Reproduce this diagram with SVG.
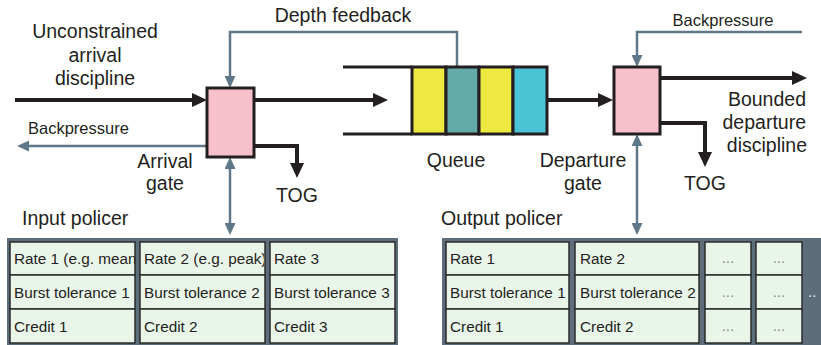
<svg xmlns="http://www.w3.org/2000/svg" width="821" height="345" viewBox="0 0 821 345">
<style>
text{font-family:"Liberation Sans",Arial,sans-serif;fill:#231f20}
.lbl{font-size:19.5px}
.bp{font-size:16.5px}
.cell text{font-size:15.3px}
.cell text.lbl{font-size:19.5px}
.dots{font-size:11px;fill:#8a8f8a}
.blk{fill:none;stroke:#231f20;stroke-width:4}
.sl{fill:none;stroke:#5f7889;stroke-width:2.5}
.gate{fill:#f8c0cb;stroke:#231f20;stroke-width:3}
.q{stroke:#231f20;stroke-width:3}
.c{fill:#eaf5ea;stroke:#2b2b2b;stroke-width:1.5}
.tbl{fill:#5d6d7a}
</style>
<defs>
<marker id="ah" markerUnits="userSpaceOnUse" viewBox="0 0 15 14" refX="3" refY="7" markerWidth="15" markerHeight="14" orient="auto"><path d="M0,0 L15,7 L0,14 z" fill="#231f20"/></marker>
<marker id="sh" markerUnits="userSpaceOnUse" viewBox="0 0 12 11" refX="2" refY="5.5" markerWidth="12" markerHeight="11" orient="auto-start-reverse"><path d="M0,0 L12,5.5 L0,11 z" fill="#5f7889"/></marker>
<clipPath id="c1"><rect x="10" y="242" width="125" height="33"/></clipPath>
<clipPath id="c2"><rect x="140" y="242" width="124" height="33"/></clipPath>
</defs>

<g id="connectors">
<path class="blk" d="M15,100 H195" marker-end="url(#ah)"/>
<path class="blk" d="M254,100 H376" marker-end="url(#ah)"/>
<path class="blk" d="M547,100 H601" marker-end="url(#ah)"/>
<path class="blk" d="M660,78 H795" marker-end="url(#ah)"/>
<path class="blk" d="M254,146 H297 V166" marker-end="url(#ah)"/>
<path class="blk" d="M660,123 H705 V155" marker-end="url(#ah)"/>
<path class="sl" d="M457,67 V32 H230 V78" marker-end="url(#sh)"/>
<path class="sl" d="M802,32 H637 V57" marker-end="url(#sh)"/>
<path class="sl" d="M207,146 H27" marker-end="url(#sh)"/>
<path class="sl" d="M230,167 V225" marker-start="url(#sh)" marker-end="url(#sh)"/>
<path class="sl" d="M637,144 V225" marker-start="url(#sh)" marker-end="url(#sh)"/>
</g>

<g id="labels">
<text class="lbl" x="95" y="38" text-anchor="middle">Unconstrained</text>
<text class="lbl" x="95" y="62" text-anchor="middle">arrival</text>
<text class="lbl" x="95" y="85" text-anchor="middle">discipline</text>
<text class="lbl" x="343" y="22" text-anchor="middle">Depth feedback</text>
<text class="bp" x="28" y="134">Backpressure</text>
<text class="bp" x="723" y="26" text-anchor="middle">Backpressure</text>
<text class="lbl" x="297" y="202" text-anchor="middle">TOG</text>
<text class="lbl" x="705" y="190" text-anchor="middle">TOG</text>
<text class="lbl" x="806" y="106" text-anchor="end">Bounded</text>
<text class="lbl" x="806" y="129" text-anchor="end">departure</text>
<text class="lbl" x="807" y="152" text-anchor="end">discipline</text>
</g>

<g id="arrival-gate">
<rect class="gate" x="207" y="88" width="47" height="69"/>
<text class="lbl" x="165" y="168" text-anchor="middle">Arrival</text>
<text class="lbl" x="165" y="190" text-anchor="middle">gate</text>
</g>

<g id="queue">
<path class="q" d="M343,67 H412 M343,134 H412"/>
<rect class="q" x="412" y="67" width="34" height="67" fill="#ede940"/>
<rect class="q" x="446" y="67" width="33" height="67" fill="#63aaa9"/>
<rect class="q" x="479" y="67" width="34" height="67" fill="#ede940"/>
<rect class="q" x="513" y="67" width="34" height="67" fill="#4bc4d6"/>
<text class="lbl" x="456" y="167" text-anchor="middle">Queue</text>
</g>

<g id="departure-gate">
<rect class="gate" x="614" y="67" width="46" height="67"/>
<text class="lbl" x="583" y="167" text-anchor="middle">Departure</text>
<text class="lbl" x="583" y="190" text-anchor="middle">gate</text>
</g>

<g id="input-policer" class="cell">
<text class="lbl" x="22" y="225">Input policer</text>
<rect class="tbl" x="7" y="238" width="391" height="110"/>
<rect class="c" x="10" y="242" width="125" height="33"/>
<rect class="c" x="10" y="275" width="125" height="34"/>
<rect class="c" x="10" y="309" width="125" height="34"/>
<rect class="c" x="140" y="242" width="125" height="33"/>
<rect class="c" x="140" y="275" width="125" height="34"/>
<rect class="c" x="140" y="309" width="125" height="34"/>
<rect class="c" x="270" y="242" width="125" height="33"/>
<rect class="c" x="270" y="275" width="125" height="34"/>
<rect class="c" x="270" y="309" width="125" height="34"/>
<text x="14" y="264" clip-path="url(#c1)">Rate 1 (e.g. mean)</text>
<text x="14" y="298">Burst tolerance 1</text>
<text x="14" y="332">Credit 1</text>
<text x="144" y="264" clip-path="url(#c2)">Rate 2 (e.g. peak)</text>
<text x="144" y="298">Burst tolerance 2</text>
<text x="144" y="332">Credit 2</text>
<text x="274" y="264">Rate 3</text>
<text x="274" y="298">Burst tolerance 3</text>
<text x="274" y="332">Credit 3</text>
</g>

<g id="output-policer" class="cell">
<text class="lbl" x="441" y="225">Output policer</text>
<rect class="tbl" x="442" y="238" width="380" height="110"/>
<rect class="c" x="446" y="242" width="123" height="33"/>
<rect class="c" x="446" y="275" width="123" height="34"/>
<rect class="c" x="446" y="309" width="123" height="34"/>
<rect class="c" x="575" y="242" width="124" height="33"/>
<rect class="c" x="575" y="275" width="124" height="34"/>
<rect class="c" x="575" y="309" width="124" height="34"/>
<rect class="c" x="705" y="242" width="46" height="33"/>
<rect class="c" x="705" y="275" width="46" height="34"/>
<rect class="c" x="705" y="309" width="46" height="34"/>
<rect class="c" x="756" y="242" width="46" height="33"/>
<rect class="c" x="756" y="275" width="46" height="34"/>
<rect class="c" x="756" y="309" width="46" height="34"/>
<text x="450" y="264">Rate 1</text>
<text x="450" y="298">Burst tolerance 1</text>
<text x="450" y="332">Credit 1</text>
<text x="580" y="264">Rate 2</text>
<text x="580" y="298">Burst tolerance 2</text>
<text x="580" y="332">Credit 2</text>
<text class="dots" x="728" y="263" text-anchor="middle">...</text>
<text class="dots" x="728" y="297" text-anchor="middle">...</text>
<text class="dots" x="728" y="331" text-anchor="middle">...</text>
<text class="dots" x="779" y="263" text-anchor="middle">...</text>
<text class="dots" x="779" y="297" text-anchor="middle">...</text>
<text class="dots" x="779" y="331" text-anchor="middle">...</text>
<text x="808" y="297" style="font-size:15px;fill:#e8eef0">..</text>
</g>
</svg>
